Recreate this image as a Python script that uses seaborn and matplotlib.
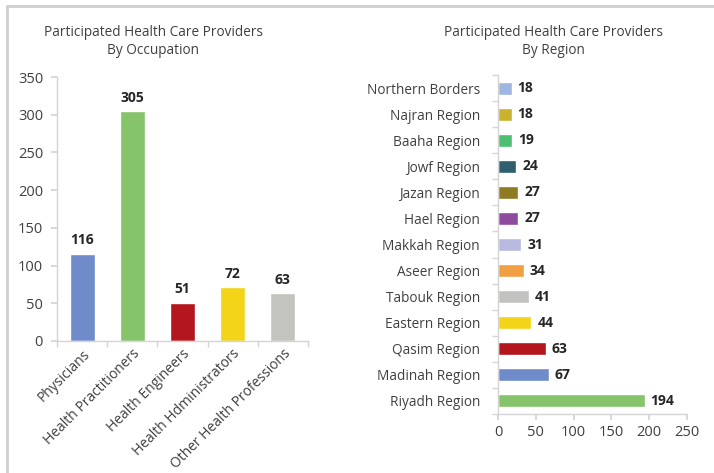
import matplotlib
matplotlib.use("Agg")
import matplotlib.pyplot as plt
import seaborn as sns
import pandas as pd
from matplotlib.lines import Line2D

occupations = ["Physicians", "Health Practitioners", "Health Engineers",
               "Health Hdministrators", "Other Health Professions"]
occ_values = [116, 305, 51, 72, 63]
occ_colors = ["#6F8BC9", "#86C46C", "#B3161D", "#F3D418", "#C3C3BF"]

regions = ["Northern Borders", "Najran Region", "Baaha Region", "Jowf Region",
           "Jazan Region", "Hael Region", "Makkah Region", "Aseer Region",
           "Tabouk Region", "Eastern Region", "Qasim Region", "Madinah Region",
           "Riyadh Region"]
reg_values = [18, 18, 19, 24, 27, 27, 31, 34, 41, 44, 63, 67, 194]
reg_colors = ["#9EB6E0", "#C8B22E", "#4DBF70", "#2F5E6F", "#8F7B22", "#8E4B9E",
              "#B9B9E1", "#F0A043", "#C2C2C0", "#F3D418", "#B3161D", "#6F8BC9",
              "#86C46C"]

occ_ticks = [0, 50, 100, 150, 200, 250, 300, 350]
reg_ticks = [0, 50, 100, 150, 200, 250]

sns.set_theme(style="white")
plt.rcParams["font.family"] = ["Open Sans", "DejaVu Sans"]
text_color = "#404040"
spine_color = "#D4D4D4"

fig = plt.figure(figsize=(7.14, 4.73), dpi=100)

# ---------- Left chart ----------
ax1 = fig.add_axes([57/714, 1-341/473, 251/714, 264/473])
df1 = pd.DataFrame({"occ": occupations, "val": occ_values})
sns.barplot(data=df1, x="occ", y="val", hue="occ", palette=occ_colors,
            width=0.5, legend=False, ax=ax1, saturation=1)
ax1.set_ylim(0, 350)
ax1.set_xlim(-0.5, len(occupations) - 0.5)
ax1.set_yticks(occ_ticks)
ax1.set_xlabel("")
ax1.set_ylabel("")
for i, v in enumerate(occ_values):
    ax1.text(i, v + 8, str(v), ha="center", va="bottom", fontsize=10,
             fontweight="bold", color="#262626")
ax1.set_xticks(range(len(occupations)))
ax1.set_xticklabels(occupations, rotation=45, ha="right",
                    rotation_mode="anchor", fontsize=10, color=text_color)
ax1.tick_params(axis="x", which="major", length=0, pad=4)
ax1.set_xticks([i - 0.5 for i in range(len(occupations) + 1)], minor=True)
ax1.tick_params(axis="x", which="minor", length=4, color=spine_color,
                direction="out", bottom=True)
ax1.tick_params(axis="y", length=4, color=spine_color, direction="out",
                left=True, labelsize=10.5, labelcolor=text_color, pad=6)
for s in ["top", "right"]:
    ax1.spines[s].set_visible(False)
for s in ["left", "bottom"]:
    ax1.spines[s].set_color(spine_color)
    ax1.spines[s].set_linewidth(1)

fig.text(153/714, 1-33/473, "Participated Health Care Providers",
         ha="center", va="center", fontsize=9.8, color=text_color)
fig.text(153/714, 1-50/473, "By Occupation",
         ha="center", va="center", fontsize=9.8, color=text_color)

# ---------- Right chart ----------
ax2 = fig.add_axes([498/714, 1-414/473, 189/714, 339/473])
df2 = pd.DataFrame({"reg": regions, "val": reg_values})
sns.barplot(data=df2, y="reg", x="val", hue="reg", palette=reg_colors,
            width=0.5, legend=False, ax=ax2, orient="h", saturation=1)
ax2.set_xlim(0, 250)
ax2.set_ylim(len(regions) - 0.5, -0.5)
ax2.set_xticks(reg_ticks)
ax2.set_xlabel("")
ax2.set_ylabel("")
for i, v in enumerate(reg_values):
    ax2.text(v + 8, i, str(v), ha="left", va="center", fontsize=10,
             fontweight="bold", color="#262626")
ax2.tick_params(axis="y", which="major", length=0, pad=13,
                labelsize=9.8, labelcolor=text_color)
ax2.set_yticks([i - 0.5 for i in range(len(regions) + 1)], minor=True)
ax2.tick_params(axis="y", which="minor", length=4, color=spine_color,
                direction="out", left=True)
ax2.tick_params(axis="x", length=4, color=spine_color, direction="out",
                bottom=True, labelsize=10.5, labelcolor=text_color, pad=4)
for s in ["top", "right"]:
    ax2.spines[s].set_visible(False)
for s in ["left", "bottom"]:
    ax2.spines[s].set_color(spine_color)
    ax2.spines[s].set_linewidth(1)

fig.text(553/714, 1-33/473, "Participated Health Care Providers",
         ha="center", va="center", fontsize=9.8, color=text_color)
fig.text(553/714, 1-50/473, "By Region",
         ha="center", va="center", fontsize=9.8, color=text_color)

# Frame lines (top and left)
fig.add_artist(Line2D([7/714, 1], [1-6/473, 1-6/473], color="#CFCFCF",
                      lw=2, transform=fig.transFigure))
fig.add_artist(Line2D([7/714, 7/714], [0, 1-6/473], color="#CFCFCF",
                      lw=2, transform=fig.transFigure))

fig.savefig("out.png", dpi=100, facecolor="white")
